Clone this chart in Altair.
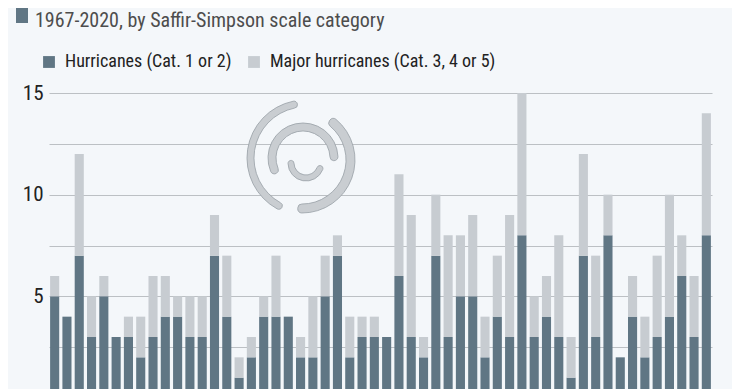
import altair as alt
import pandas as pd
import math

years = list(range(1967, 2021))
hurricanes = [5, 4, 7, 3, 5, 3, 3, 2, 3, 4, 4, 3, 3, 7, 4, 1, 2, 4, 4, 4,
              2, 2, 5, 7, 2, 3, 3, 3, 6, 3, 2, 7, 3, 5, 5, 2, 4, 3, 8, 3,
              4, 3, 1, 7, 3, 8, 2, 4, 2, 3, 4, 6, 3, 8]
totals = [6, 4, 12, 5, 6, 3, 4, 4, 6, 6, 5, 5, 5, 9, 7, 2, 3, 5, 7, 4,
          3, 5, 7, 8, 4, 4, 4, 3, 11, 9, 3, 10, 8, 8, 9, 4, 7, 9, 15, 5,
          6, 8, 3, 12, 7, 10, 2, 6, 4, 7, 10, 8, 6, 14]
major = [t - h for t, h in zip(totals, hurricanes)]

cat_minor = "Hurricanes (Cat. 1 or 2)"
cat_major = "Major hurricanes (Cat. 3, 4 or 5)"
subtitle = "1967-2020, by Saffir-Simpson scale category"

rows = []
for y, h, m in zip(years, hurricanes, major):
    rows.append({"year": str(y), "cat": cat_minor, "n": h, "order": 0})
    rows.append({"year": str(y), "cat": cat_major, "n": m, "order": 1})
df = pd.DataFrame(rows)

FONT = "Roboto Condensed"
DARK = "#607684"
LIGHT = "#c7ccd1"
BG = "#f4f7fa"

W = 663
H = 305

bars = alt.Chart(df).mark_bar().encode(
    x=alt.X("year:N", sort=[str(y) for y in years], axis=None,
            scale=alt.Scale(paddingInner=0.26, paddingOuter=0.09)),
    y=alt.Y("n:Q", stack="zero", scale=alt.Scale(domain=[0, 15], nice=False),
            axis=alt.Axis(values=[0, 2.5, 5, 7.5, 10, 12.5, 15],
                          labelExpr="datum.value % 5 == 0 && datum.value > 0 ? datum.label : ''",
                          title=None, domain=False, ticks=False,
                          gridColor="#bcc0c4", gridWidth=1,
                          labelFont=FONT, labelFontSize=21, labelColor="#222222",
                          labelPadding=6)),
    color=alt.Color("cat:N", scale=alt.Scale(domain=[cat_minor, cat_major], range=[DARK, LIGHT]),
                    legend=alt.Legend(orient="none", legendX=-9, legendY=-40, direction="horizontal",
                                      title=None, symbolType="square", symbolSize=140,
                                      symbolStrokeWidth=0, labelFont=FONT, labelFontSize=18,
                                      labelColor="#222222", labelOffset=7, columnPadding=13,
                                      padding=0, labelLimit=400)),
    order=alt.Order("order:Q"),
)

# decorative hurricane swirl (approximation of the logo)
def d(a):
    return a * math.pi / 180.0
swirl_specs = [
    # cx, cy, inner r, outer r, theta start, theta end (degrees, clockwise from 12 o'clock)
    (256, 65, 51, 58, 205, 352),
    (253, 67, 44, 53, 35, 185),
    (254, 65, 27, 35, 240, 455),
    (257, 70, 12, 18, 100, 280),
]
swirl_layers = []
for cx, cy, r1, r2, t1, t2 in swirl_specs:
    swirl_layers.append(
        alt.Chart(df.head(1)).mark_arc(fill="#c9cdd1", stroke="#98a0a6", strokeWidth=0.8, cornerRadius=4).encode(
            x=alt.value(cx), y=alt.value(cy), theta=alt.value(d(t1)), theta2=alt.value(d(t2)),
            radius=alt.value(r2), radius2=alt.value(r1))
    )

square = alt.Chart(df.head(1)).mark_rect(color=DARK).encode(
    x=alt.value(-33), x2=alt.value(-21), y=alt.value(-95), y2=alt.value(-70))

title_txt = alt.Chart(df.head(1)).mark_text(font=FONT, fontSize=20, color="#4d4d4d", align="left",
                                             baseline="alphabetic").encode(
    x=alt.value(-14), y=alt.value(-66), text=alt.value(subtitle))

chart = alt.layer(*swirl_layers, bars, square, title_txt).properties(
    width=W, height=H,
    autosize=alt.AutoSizeParams(type="none"),
    padding={"left": 41, "top": 85, "right": 20, "bottom": 30},
    background=BG,
).configure_view(stroke=None)

chart.save("out.html", embed_options={"renderer": "svg", "actions": False})
